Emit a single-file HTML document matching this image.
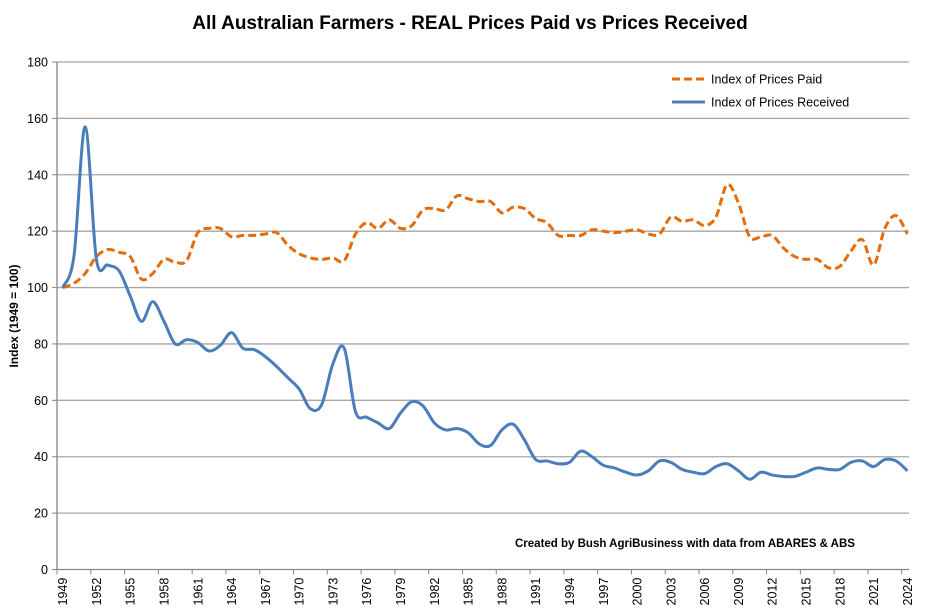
<!DOCTYPE html>
<html><head><meta charset="utf-8"><style>
body{margin:0;background:#fff;}
svg{display:block;font-family:"Liberation Sans",sans-serif;}
</style></head><body>
<svg id="chart" width="943" height="616" viewBox="0 0 943 616" xmlns="http://www.w3.org/2000/svg">
<text x="470" y="29" text-anchor="middle" font-size="19" font-weight="bold">All Australian Farmers - REAL Prices Paid vs Prices Received</text>
<text transform="translate(18,316) rotate(-90)" text-anchor="middle" font-size="12" font-weight="bold">Index (1949 = 100)</text>
<g id="grid"></g>
<g id="yticks"></g>
<g id="xticks"></g>
<g id="series"></g>
<g>
<line x1="672" y1="79" x2="705" y2="79" stroke="#E46C0A" stroke-width="3" stroke-dasharray="8,4"/>
<text x="711" y="83.5" font-size="12.5">Index of Prices Paid</text>
<line x1="672" y1="102" x2="705" y2="102" stroke="#4A7EBB" stroke-width="3"/>
<text x="711" y="106.5" font-size="12.5">Index of Prices Received</text>
</g>
<text x="515" y="547" font-size="11.5" font-weight="bold">Created by Bush AgriBusiness with data from ABARES &amp; ABS</text>
</svg>
<script>
const startYear = 1949;
const endYear = 2024;
const yTicks = [0,20,40,60,80,100,120,140,160,180];
const received = [100,111,157,110,108,106,97,88,95,88,80,81.5,80.5,77.5,79.5,84,78.5,78,75.5,72,68,64,57,58.5,73,78.5,56,54,52,50,55.5,59.5,58,52,49.5,50,48.5,44.5,44,49.5,51.5,46,39,38.5,37.5,38,42,40,37,36,34.5,33.5,35,38.5,38,35.5,34.5,34,36.5,37.5,35,32,34.5,33.5,33,33,34.5,36,35.5,35.5,38,38.5,36.5,39,38.5,35];
const paid = [100,101.5,105,111,113.5,112.5,111,103,105,110,109,109.5,119.5,121,121,118,118.5,118.5,119,119.5,115,112,110.5,110,110.5,109.5,119,123,121,124,121,122,127.5,128,127.5,132.5,131.5,130.5,130.5,126.5,128.5,128,124.5,123,118.5,118.5,118.5,120.5,120,119.5,120,120.5,119,119,125,123.5,124,122,125,136.5,130,118,118,118.5,114,111,110,110,107,107.5,113,117,108,121,125.5,119];
const NS='http://www.w3.org/2000/svg';
const L=57,R=913,T=62,B=569.5;
const n=endYear-startYear+1;
const cw=(R-L)/n;
function xs(i){return L+(i+0.5)*cw;}
function ys(v){return B-(v/180)*(B-T);}
function mk(tag,attrs,parent){const e=document.createElementNS(NS,tag);for(const k in attrs)e.setAttribute(k,attrs[k]);parent.appendChild(e);return e;}
const grid=document.getElementById('grid'),yt=document.getElementById('yticks'),xt=document.getElementById('xticks'),ser=document.getElementById('series');
yTicks.forEach(v=>{
  const g=mk('line',{x1:L,x2:R-4,y1:ys(v),y2:ys(v),stroke:v===0?'#868686':'#a6a6a6','stroke-width':1.3},grid);
  
  
  const t=mk('text',{x:L-9,y:ys(v)+4.5,'text-anchor':'end','font-size':12.5},yt);
  t.textContent=v;
  
  
  mk('line',{x1:L-5,x2:L,y1:ys(v),y2:ys(v),stroke:'#868686'},yt);
});
const ax=mk('line',{x1:L,x2:L,y1:T,y2:B,stroke:'#868686','stroke-width':1.3},grid);


for(let i=0;i<n;i+=3){
  const x0=L+i*cw;
  mk('line',{x1:x0,x2:x0,y1:B,y2:B+5,stroke:'#868686'},xt);
  const t=mk('text',{transform:`translate(${xs(i)+4.5},${B+36}) rotate(-90)`,'font-size':12.5},xt);
  t.textContent=startYear+i;
  
  
}
if((n-1)%3!==0){
  const t=mk('text',{transform:`translate(${xs(n-1)+4.5},${B+36}) rotate(-90)`,'font-size':12.5},xt);
  t.textContent=endYear;
  
  
}
function pathFor(arr){
  const p=arr.map((v,i)=>[xs(i),ys(v)]);
  let d=`M${p[0][0]},${p[0][1]}`;
  for(let i=0;i<p.length-1;i++){
    const p0=p[i-1]||p[i],p1=p[i],p2=p[i+1],p3=p[i+2]||p2;
    const c1=[p1[0]+(p2[0]-p0[0])/6,p1[1]+(p2[1]-p0[1])/6];
    const c2=[p2[0]-(p3[0]-p1[0])/6,p2[1]-(p3[1]-p1[1])/6];
    d+=` C${c1[0]},${c1[1]} ${c2[0]},${c2[1]} ${p2[0]},${p2[1]}`;
  }
  return d;
}
const pp=mk('path',{d:pathFor(paid),fill:'none',stroke:'#E46C0A','stroke-width':3,'stroke-dasharray':'8,4'},ser);


const pr=mk('path',{d:pathFor(received),fill:'none',stroke:'#4A7EBB','stroke-width':3},ser);


</script>
</body></html>
